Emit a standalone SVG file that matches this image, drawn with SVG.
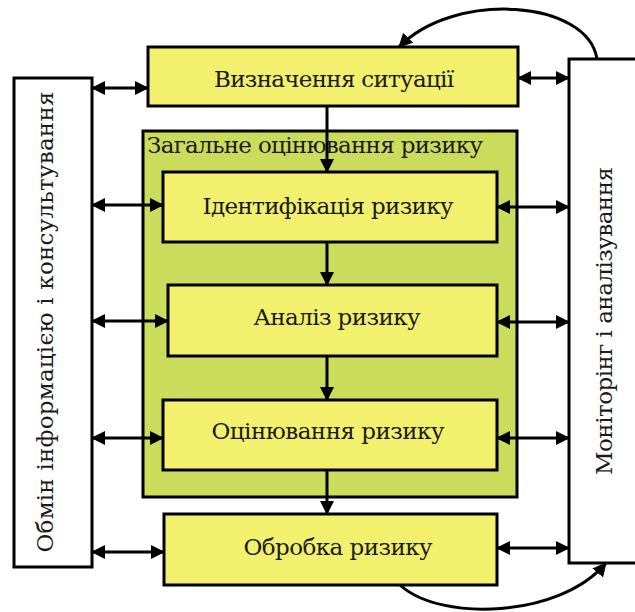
<svg xmlns="http://www.w3.org/2000/svg" width="635" height="612" viewBox="0 0 635 612">
<defs>
<marker id="ah" viewBox="0 0 14 14" refX="13" refY="7" markerWidth="14" markerHeight="14" markerUnits="userSpaceOnUse" orient="auto-start-reverse">
<path d="M0,0 L14,7 L0,14 Z" fill="#000"/>
</marker>
<style>
.box{stroke:#000;stroke-width:3}
.y{fill:#f3f06e}
.g{fill:#cbdc5c}
.w{fill:#fff}
text{font-family:'DejaVu Serif','Liberation Serif',serif;font-size:23px;fill:#1a1a1a}
.c{stroke:#000;stroke-width:3;fill:none}
</style>
</defs>
<rect width="635" height="612" fill="#fff"/>
<g id="left"><rect class="box w" x="14" y="78" width="78" height="489"/>
<text transform="translate(53,322) rotate(-90)" text-anchor="middle" textLength="461" lengthAdjust="spacing">Обмін інформацією і консультування</text></g>
<g id="right"><rect class="box w" x="569" y="59" width="80" height="504"/>
<text transform="translate(612,321) rotate(-90)" text-anchor="middle" textLength="308" lengthAdjust="spacing">Моніторінг і аналізування</text></g>
<g id="situation"><rect class="box y" x="148" y="47" width="370" height="59"/>
<text x="334" y="87" text-anchor="middle" textLength="240" lengthAdjust="spacing">Визначення ситуації</text></g>
<g id="assessment"><rect class="box g" x="143" y="131" width="374" height="366"/>
<text x="147" y="153" textLength="336" lengthAdjust="spacing">Загальне оцінювання ризику</text></g>
<g id="identification"><rect class="box y" x="163" y="172" width="334" height="70"/>
<text x="328" y="214" text-anchor="middle" textLength="251" lengthAdjust="spacing">Ідентифікація ризику</text></g>
<g id="analysis"><rect class="box y" x="168" y="285" width="329" height="71"/>
<text x="337" y="325" text-anchor="middle" textLength="167" lengthAdjust="spacing">Аналіз ризику</text></g>
<g id="evaluation"><rect class="box y" x="163" y="400" width="334" height="70"/>
<text x="328" y="439" text-anchor="middle" textLength="233" lengthAdjust="spacing">Оцінювання ризику</text></g>
<g id="treatment"><rect class="box y" x="164" y="514" width="333" height="71"/>
<text x="338" y="555" text-anchor="middle" textLength="189" lengthAdjust="spacing">Обробка ризику</text></g>
<g id="connectors">
<line class="c" x1="327" y1="106" x2="327" y2="172" marker-end="url(#ah)"/>
<line class="c" x1="327" y1="242" x2="327" y2="285" marker-end="url(#ah)"/>
<line class="c" x1="327" y1="356" x2="327" y2="400" marker-end="url(#ah)"/>
<line class="c" x1="327" y1="470" x2="327" y2="514" marker-end="url(#ah)"/>
<line class="c" x1="92" y1="88" x2="148" y2="88" marker-start="url(#ah)" marker-end="url(#ah)"/>
<line class="c" x1="92" y1="205" x2="163" y2="205" marker-start="url(#ah)" marker-end="url(#ah)"/>
<line class="c" x1="92" y1="321" x2="168" y2="321" marker-start="url(#ah)" marker-end="url(#ah)"/>
<line class="c" x1="92" y1="438" x2="163" y2="438" marker-start="url(#ah)" marker-end="url(#ah)"/>
<line class="c" x1="92" y1="552" x2="164" y2="552" marker-start="url(#ah)" marker-end="url(#ah)"/>
<line class="c" x1="518" y1="78" x2="569" y2="78" marker-start="url(#ah)" marker-end="url(#ah)"/>
<line class="c" x1="497" y1="207" x2="569" y2="207" marker-start="url(#ah)" marker-end="url(#ah)"/>
<line class="c" x1="497" y1="322" x2="569" y2="322" marker-start="url(#ah)" marker-end="url(#ah)"/>
<line class="c" x1="497" y1="438" x2="569" y2="438" marker-start="url(#ah)" marker-end="url(#ah)"/>
<line class="c" x1="497" y1="548" x2="569" y2="548" marker-start="url(#ah)" marker-end="url(#ah)"/>
<path class="c" d="M597,59 C588,0 455,-10 399,47" marker-end="url(#ah)"/>
<path class="c" d="M400,585 C440,622 560,618 606,563" marker-end="url(#ah)"/>
</g>
</svg>
